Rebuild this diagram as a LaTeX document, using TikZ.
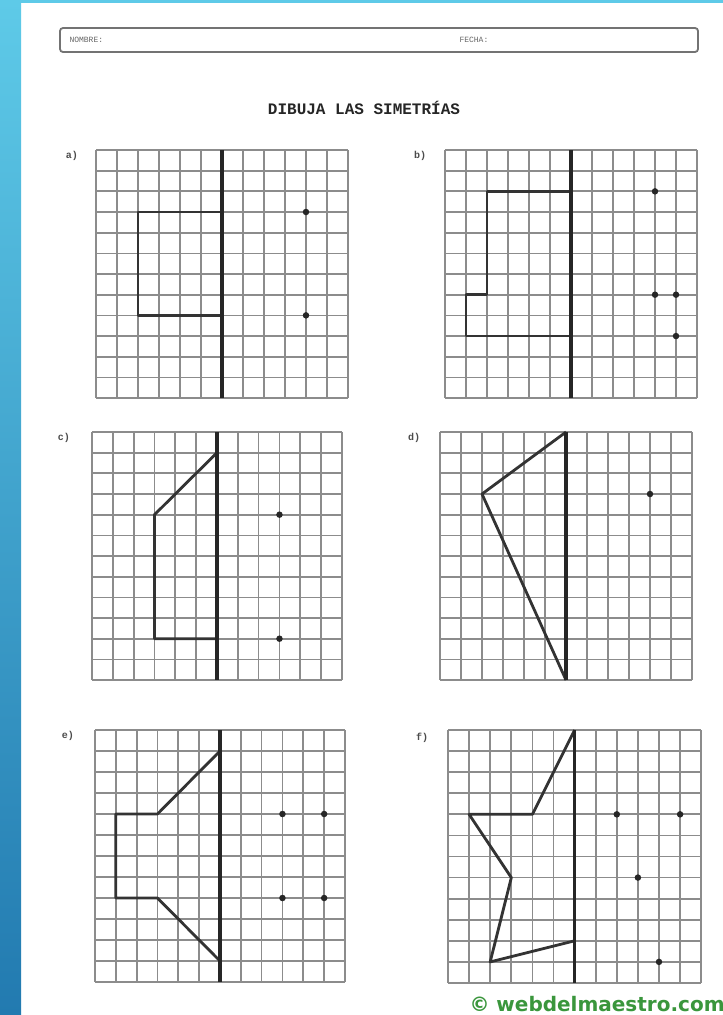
\documentclass[tikz,border=0pt]{standalone}
\usepackage{fontspec}
\newfontfamily\monofont{Liberation Mono}
\newfontfamily\marcafont{DejaVu Sans}
\definecolor{BordeAzul}{RGB}{94,202,232}
\definecolor{BordeAzulOsc}{RGB}{34,122,176}
\definecolor{VerdeMarca}{RGB}{58,150,60}
\definecolor{Rejilla}{RGB}{140,140,140}
\usetikzlibrary{positioning}

\begin{document}
\begin{tikzpicture}[
            x=1pt, y=-1pt,
            rejilla/.style={draw=Rejilla, line width=1.7pt},
            eje/.style={draw=black!85, line width=3.2pt},
            figura/.style={draw=black!80, line width=2.8pt, line join=round},
            punto/.style={circle, fill=black!85, inner sep=0pt, minimum size=6.5pt},
            etiqueta/.style={font=\monofont\bfseries\fontsize{10}{10}\selectfont, text=black!70},
            cabecera/.style={anchor=west, font=\monofont\fontsize{8}{8}\selectfont, text=black!60}
        ]
            \useasboundingbox (0,0) rectangle (723,1015);
            \fill[white] (0,0) rectangle (723,1015);
            % franja azul
            \shade[top color=BordeAzul, bottom color=BordeAzulOsc] (0,0) rectangle (21,1015);
            \fill[BordeAzul] (0,0) rectangle (723,3);

            % cabecera
            \draw[black!55, line width=1.8pt, rounded corners=3pt] (60,28) rectangle (698,52);
            \node[cabecera] (nombre) at (66,40) {NOMBRE:};
            \node[cabecera] (fecha) at (456,40) {FECHA:};
            \node[font=\monofont\bfseries\fontsize{16}{16}\selectfont, text=black!85] (titulo) at (364,108) {DIBUJA LAS SIMETRÍAS};

            % a)
            \begin{scope}[shift={(96,150)}, x=21pt, y=-20.67pt]
                \foreach \i in {0,...,12} {
                    \draw[rejilla] (\i,0) -- (\i,12);
                    \draw[rejilla] (0,\i) -- (12,\i);
                }
                \draw[figura] (6,3) -- (2,3) -- (2,8) -- (6,8);
                \draw[eje] (6,0) -- (6,12);
                \node[punto] (a1) at (10,3) {};
                \node[punto] (a2) at (10,8) {};
            \end{scope}
            \node[etiqueta] (etqa) at (72,156) {a)};

            % b)
            \begin{scope}[shift={(445,150)}, x=21pt, y=-20.67pt]
                \foreach \i in {0,...,12} {
                    \draw[rejilla] (\i,0) -- (\i,12);
                    \draw[rejilla] (0,\i) -- (12,\i);
                }
                \draw[figura] (6,2) -- (2,2) -- (2,7) -- (1,7) -- (1,9) -- (6,9);
                \draw[eje] (6,0) -- (6,12);
                \node[punto] (b1) at (10,2) {};
                \node[punto] (b2) at (10,7) {};
                \node[punto] (b3) at (11,7) {};
                \node[punto] (b4) at (11,9) {};
            \end{scope}
            \node[etiqueta] (etqb) at (420,156) {b)};

            % c)
            \begin{scope}[shift={(92,432)}, x=20.83pt, y=-20.67pt]
                \foreach \i in {0,...,12} {
                    \draw[rejilla] (\i,0) -- (\i,12);
                    \draw[rejilla] (0,\i) -- (12,\i);
                }
                \draw[figura] (6,1) -- (3,4) -- (3,10) -- (6,10);
                \draw[eje] (6,0) -- (6,12);
                \node[punto] (c1) at (9,4) {};
                \node[punto] (c2) at (9,10) {};
            \end{scope}
            \node[etiqueta] (etqc) at (64,438) {c)};

            % d)
            \begin{scope}[shift={(440,432)}, x=21pt, y=-20.67pt]
                \foreach \i in {0,...,12} {
                    \draw[rejilla] (\i,0) -- (\i,12);
                    \draw[rejilla] (0,\i) -- (12,\i);
                }
                \draw[figura] (6,0) -- (2,3) -- (6,12);
                \draw[eje] (6,0) -- (6,12);
                \node[punto] (d1) at (10,3) {};
            \end{scope}
            \node[etiqueta] (etqd) at (414,438) {d)};

            % e)
            \begin{scope}[shift={(95,730)}, x=20.83pt, y=-21pt]
                \foreach \i in {0,...,12} {
                    \draw[rejilla] (\i,0) -- (\i,12);
                    \draw[rejilla] (0,\i) -- (12,\i);
                }
                \draw[figura] (6,1) -- (3,4) -- (1,4) -- (1,8) -- (3,8) -- (6,11);
                \draw[eje] (6,0) -- (6,12);
                \node[punto] (e1) at (9,4) {};
                \node[punto] (e2) at (11,4) {};
                \node[punto] (e3) at (9,8) {};
                \node[punto] (e4) at (11,8) {};
            \end{scope}
            \node[etiqueta] (etqe) at (68,736) {e)};

            % f)
            \begin{scope}[shift={(448,730)}, x=21.1pt, y=-21.08pt]
                \foreach \i in {0,...,12} {
                    \draw[rejilla] (\i,0) -- (\i,12);
                    \draw[rejilla] (0,\i) -- (12,\i);
                }
                \draw[figura] (6,0) -- (4,4) -- (1,4) -- (3,7) -- (2,11) -- (6,10);
                \draw[eje] (6,0) -- (6,12);
                \node[punto] (f1) at (8,4) {};
                \node[punto] (f2) at (11,4) {};
                \node[punto] (f3) at (9,7) {};
                \node[punto] (f4) at (10,11) {};
            \end{scope}
            \node[etiqueta] (etqf) at (422,738) {f)};

            % marca
            \node[anchor=west, font=\marcafont\bfseries\fontsize{20}{20}\selectfont, text=VerdeMarca] (marca) at (466,1004) {© webdelmaestro.com};
        \end{tikzpicture}
\end{document}
